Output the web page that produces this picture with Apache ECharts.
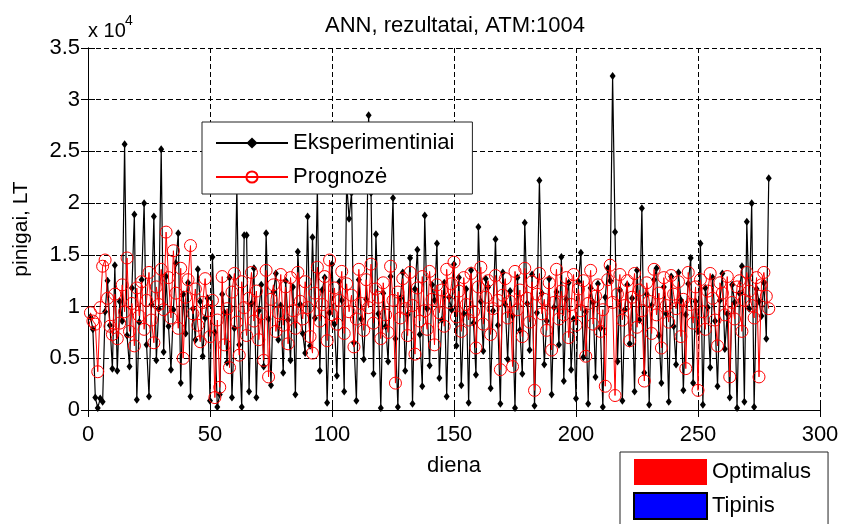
<!DOCTYPE html>
<html>
<head>
<meta charset="utf-8">
<script src="https://cdn.jsdelivr.net/npm/echarts@6/dist/echarts.min.js"></script>
<style>
  html, body { margin: 0; padding: 0; background: #fff; }
  #chart { width: 846px; height: 524px; }
</style>
</head>
<body>
<div id="chart"></div>
<script>
// Daily cash withdrawals for ATM 1004: measured values and ANN forecast
const measured = [
  9000, 7800, 1200, 200, 1100, 800, 9500, 12500, 8200, 4000,
  14000, 3800, 10500, 8600, 25700, 7200, 4200, 11800, 18900, 1000,
  8500, 12600, 20000, 6300, 1300, 10200, 18700, 4800, 9800, 25200,
  5600, 12900, 8100, 3900, 9700, 14200, 17100, 2600, 11200, 7400,
  12300, 1300, 9800, 6800, 13600, 10500, 5200, 8900, 10800, 900,
  14800, 7500, 300, 1500, 11200, 9400, 4600, 12800, 1200, 7900,
  21500, 6300, 300, 16900, 16900, 1800, 10300, 13700, 1200, 9600,
  12100, 4200, 17100, 8800, 2400, 11400, 13200, 6800, 10100, 3600,
  12500, 8700, 4800, 11900, 1500, 15300, 10200, 7400, 5500, 18700,
  6200, 16700, 8900, 21500, 3800, 11600, 12800, 700, 9400, 14100,
  8300, 3300, 12400, 10600, 1800, 22000, 18500, 21000, 6500, 900,
  12600, 8800, 4900, 10700, 28500, 21000, 3500, 17000, 9300, 200,
  11300, 8100, 4700, 12900, 20500, 6900, 300, 10800, 13300, 3800,
  9200, 14700, 600, 11700, 15500, 7300, 2300, 18800, 9800, 4300,
  12100, 10600, 16100, 3100, 8700, 12300, 1300, 10900, 9700, 14100,
  6200, 12800, 2400, 9300, 11700, 700, 13500, 8400, 3400, 17700,
  10500, 5700, 12700, 11900, 2100, 9600, 16500, 8200, 600, 13300,
  10200, 4900, 11500, 9100, 200, 12800, 7700, 3500, 18100, 10300,
  5800, 13100, 400, 9400, 22200, 11300, 4400, 8600, 12700, 1500,
  9900, 11400, 6300, 14800, 2800, 10700, 12300, 3900, 8800, 1100,
  12400, 15200, 5100, 9500, 600, 11800, 10400, 3200, 12200, 7900,
  300, 10900, 13700, 12500, 32300, 17200, 4700, 11600, 900, 9700,
  12100, 6400, 10800, 1800, 13500, 8700, 19500, 3600, 11200, 500,
  10100, 12600, 13700, 7200, 2600, 11900, 9300, 800, 12900, 8100,
  4400, 13300, 10600, 1900, 9200, 12200, 14700, 2600, 10500, 7600,
  16100, 500, 11800, 9900, 4100, 12800, 8600, 2300, 10600, 13200,
  5900, 9300, 1200, 12100, 10400, 200, 11300, 13900, 800, 18200,
  9800, 20000, 300, 11700, 10500, 9100, 12300, 6900, 22400
];

const forecast = [
  9400, 8600, 8300, 3700, 9900, 13900, 14500, 10800, 8100, 7300,
  11200, 6900, 8400, 12100, 9500, 14700, 7600, 10300, 6200, 11800,
  9100, 12400, 7800, 10600, 13300, 8700, 6500, 11900, 10200, 13600,
  9700, 17200, 12800, 8900, 15400, 11300, 7900, 13700, 5000, 10900,
  12600, 15900, 9300, 11700, 8200, 6600, 10400, 12700, 9600, 7100,
  10600, 1200, 8700, 2200, 12900, 6300, 9800, 4100, 11400, 13200,
  8500, 5300, 12400, 9900, 7200, 10800, 13300, 8600, 11500, 6800,
  9300, 4800, 13500, 3200, 10700, 12100, 7600, 9400, 13100, 8200,
  11900, 6400, 12800, 9600, 7900, 13300, 10500, 8800, 12400, 9900,
  7100, 5500, 11300, 13800, 8600, 10200, 12900, 6700, 14500, 9200,
  11800, 8300, 10600, 13400, 7400, 12200, 9500, 11100, 6100, 8800,
  13600, 10300, 7700, 12600, 9900, 14100, 8400, 11700, 10900, 6900,
  12300, 9200, 7500, 13900, 10600, 2600, 11400, 8900, 12700, 9800,
  7200, 13300, 10100, 5400, 11800, 8600, 12900, 9600, 7800, 13400,
  10700, 6300, 12100, 9400, 11600, 8100, 13600, 10400, 12200, 14300,
  9000, 11500, 7600, 12800, 10200, 8700, 13200, 9500, 6000, 11900,
  13800, 8300, 10900, 12500, 7300, 9800, 13000, 10600, 3900, 11100,
  12700, 8900, 10500, 4200, 13400, 9700, 11600, 7100, 13700, 10800,
  8500, 12400, 1900, 11200, 13200, 9300, 10700, 7700, 12300, 5800,
  10400, 13600, 8800, 11500, 9200, 12800, 7000, 10200, 13100, 8200,
  11700, 9600, 12500, 5200, 10300, 13500, 8300, 11000, 12100, 7600,
  9700, 2300, 12600, 14000, 10400, 1400, 11200, 13100, 8700, 10100,
  12500, 6700, 10900, 13200, 8000, 11600, 9600, 2800, 12300, 10500,
  7400, 13600, 9200, 11300, 6000, 12800, 10100, 8500, 13000, 11200,
  9800, 12400, 7100, 10700, 4000, 13300, 10200, 8400, 11900, 1900,
  12600, 9500, 7800, 11500, 13200, 10800, 8700, 6200, 12300, 11300,
  9200, 12900, 3200, 10400, 8800, 11900, 12500, 7600, 10600, 13300,
  11500, 10100, 8900, 12800, 3200, 12100, 13300, 11000, 9800
];

// Day numbers 1..N, one per observation
const days = measured.map((_, i) => i + 1);

const seriesNames = ['Eksperimentiniai', 'Prognozė'];
const methodNames = ['Optimalus', 'Tipinis'];
const titleText = 'ANN, rezultatai, ATM:1004';
const xName = 'diena';
const yName = 'pinigai, LT';

const FONT = '"Liberation Sans", Arial, sans-serif';

const chart = echarts.init(document.getElementById('chart'), null, { renderer: 'canvas' });

const gridLine = { show: true, lineStyle: { color: '#000', type: [5, 3], width: 1 } };
const boxLine = { show: true, lineStyle: { color: '#000', width: 1 } };
const innerTick = { show: true, inside: true, length: 7, lineStyle: { color: '#000' } };

chart.setOption({
  animation: false,
  backgroundColor: '#fff',
  textStyle: { fontFamily: FONT },
  grid: { left: 88, right: 26, top: 48, bottom: 114, containLabel: false },
  graphic: [
    { type: 'text', x: 455, y: 26, style: { text: titleText, font: '22px ' + FONT, fill: '#000', textAlign: 'center', textVerticalAlign: 'middle' } },
    { type: 'text', x: 88, y: 31, style: { text: 'x 10', font: '20px ' + FONT, fill: '#000', textAlign: 'left', textVerticalAlign: 'middle' } },
    { type: 'text', x: 125, y: 21, style: { text: '4', font: '14px ' + FONT, fill: '#000', textAlign: 'left', textVerticalAlign: 'middle' } }
  ],
  legend: [
    {
      data: seriesNames,
      orient: 'vertical',
      left: 202, top: 122,
      padding: [10, 18, 6, 13],
      itemGap: 12,
      itemWidth: 72, itemHeight: 14,
      backgroundColor: '#fff',
      borderColor: '#222', borderWidth: 1, borderRadius: 0,
      textStyle: { fontSize: 22, fontFamily: FONT, color: '#000' }
    },
    {
      data: methodNames,
      orient: 'vertical',
      left: 620, top: 452, height: 120,
      padding: [7, 17, 12, 13],
      itemGap: 7,
      itemWidth: 73, itemHeight: 26,
      icon: 'rect',
      backgroundColor: '#fff',
      borderColor: '#222', borderWidth: 1, borderRadius: 0,
      textStyle: { fontSize: 22, fontFamily: FONT, color: '#000' }
    }
  ],
  xAxis: [
    {
      type: 'value', min: 0, max: 300, interval: 50,
      name: xName, nameLocation: 'middle', nameGap: 45,
      nameTextStyle: { fontSize: 22, fontFamily: FONT, color: '#000' },
      axisLine: boxLine, axisTick: innerTick, splitLine: gridLine,
      axisLabel: { fontSize: 22, fontFamily: FONT, color: '#000', margin: 14 }
    },
    {
      type: 'value', min: 0, max: 300, interval: 50, position: 'top',
      axisLine: boxLine, axisTick: innerTick, splitLine: { show: false },
      axisLabel: { show: false }
    }
  ],
  yAxis: [
    {
      type: 'value', min: 0, max: 35000, interval: 5000,
      name: yName, nameLocation: 'middle', nameGap: 56, nameRotate: 90,
      nameTextStyle: { fontSize: 21, fontFamily: FONT, color: '#000' },
      axisLine: boxLine, axisTick: innerTick, splitLine: gridLine,
      axisLabel: { fontSize: 22, fontFamily: FONT, color: '#000', margin: 8,
        formatter: v => String(v / 10000) }
    },
    {
      type: 'value', min: 0, max: 35000, interval: 5000, position: 'right',
      axisLine: boxLine, axisTick: innerTick, splitLine: { show: false },
      axisLabel: { show: false }
    }
  ],
  series: [
    {
      name: seriesNames[0], type: 'line',
      data: days.map((d, i) => [d, measured[i]]),
      symbol: 'diamond', symbolSize: [6, 8], showAllSymbol: true,
      lineStyle: { color: '#000', width: 1.2 },
      itemStyle: { color: '#000' },
      z: 2
    },
    {
      name: seriesNames[1], type: 'line',
      data: days.map((d, i) => [d, forecast[i]]),
      symbol: 'circle', symbolSize: 12, showAllSymbol: true,
      lineStyle: { color: '#ff0000', width: 1 },
      itemStyle: { color: 'rgba(255,255,255,0)', borderColor: '#ff0000', borderWidth: 1 },
      z: 3
    },
    { name: methodNames[0], type: 'bar', data: [], itemStyle: { color: '#ff0000' } },
    { name: methodNames[1], type: 'bar', data: [], itemStyle: { color: '#0000ff', borderColor: '#000', borderWidth: 1 } }
  ]
});
</script>
</body>
</html>
